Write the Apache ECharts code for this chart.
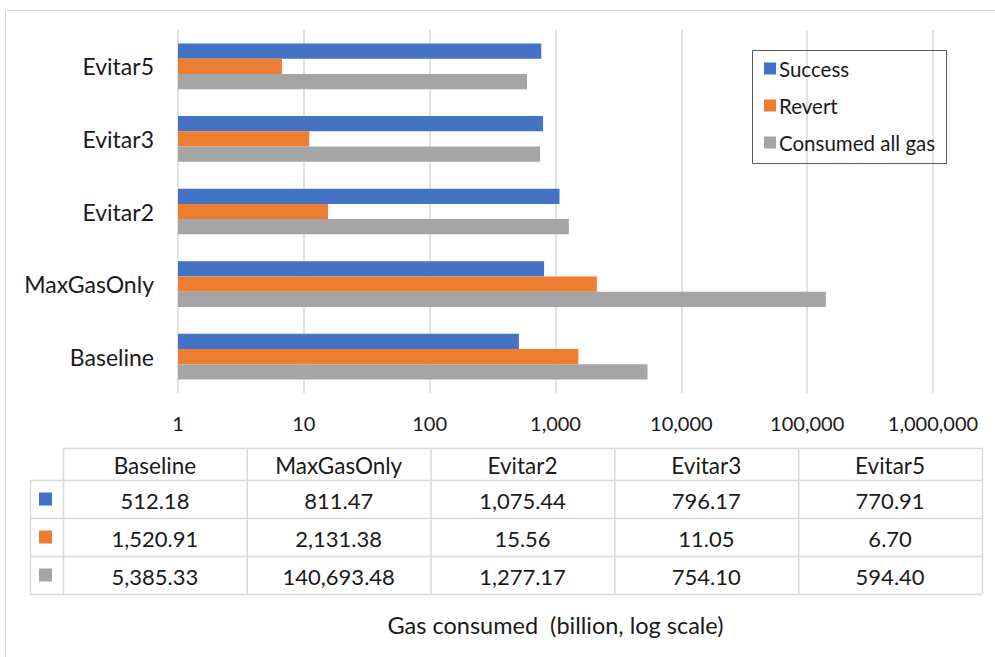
<!DOCTYPE html>
<html>
<head>
<meta charset="utf-8">
<script src="https://cdn.jsdelivr.net/npm/echarts@6/dist/echarts.min.js"></script>
<style>html,body{margin:0;padding:0;background:#fff}#c{width:995px;height:657px}</style>
</head>
<body>
<div id="c"></div>
<script>
const categories = ['Baseline', 'MaxGasOnly', 'Evitar2', 'Evitar3', 'Evitar5'];
const seriesNames = ['Success', 'Revert', 'Consumed all gas'];
const success = [512.18, 811.47, 1075.44, 796.17, 770.91];
const revert = [1520.91, 2131.38, 15.56, 11.05, 6.70];
const consumed = [5385.33, 140693.48, 1277.17, 754.10, 594.40];
const tickValues = [1, 10, 100, 1000, 10000, 100000, 1000000];
const axisTitle = 'Gas consumed  (billion, log scale)';

const colors = ['#4472C4', '#ED7D31', '#A5A5A5'];
const FONT = 'Lato';
const TXT = '#1a1a1a';
const LINE = '#d9d9d9';
const allSeries = [success, revert, consumed];

const fmt = v => v.toLocaleString('en-US', {minimumFractionDigits: 2, maximumFractionDigits: 2});

// table layout
const keyL = 30, tL = 63, tR = 982, hTop = 448, hBot = 480, rowH = 38;
const colW = (tR - tL) / categories.length;
const tBot = hBot + rowH * 3;
const g = [];
// outer border
g.push({type: 'rect', shape: {x: 5.5, y: 10.5, width: 1000, height: 700}, style: {fill: 'none', stroke: LINE, lineWidth: 1}, silent: true});
// legend box
g.push({type: 'rect', shape: {x: 752.5, y: 50.5, width: 194, height: 113}, style: {fill: 'none', stroke: '#595959', lineWidth: 1}, z: 10});
// table lines
const hl = (x1, x2, y) => g.push({type: 'line', shape: {x1, y1: y + 0.5, x2, y2: y + 0.5}, style: {stroke: LINE, lineWidth: 1.5}});
const vl = (x, y1, y2) => g.push({type: 'line', shape: {x1: x + 0.5, y1, x2: x + 0.5, y2}, style: {stroke: LINE, lineWidth: 1.5}});
hl(tL, tR, hTop);
for (let r = 0; r <= 3; r++) hl(keyL, tR, hBot + r * rowH);
vl(keyL, hBot, tBot);
for (let c = 0; c <= categories.length; c++) vl(tL + c * colW, hTop, tBot);
// header text
categories.forEach((cat, c) => {
  g.push({type: 'text', x: tL + (c + 0.5) * colW, y: (hTop + hBot) / 2 + 1, style: {text: cat, font: '22.5px ' + FONT, fill: TXT, align: 'center', verticalAlign: 'middle'}});
});
// rows
allSeries.forEach((vals, r) => {
  const cy = hBot + (r + 0.5) * rowH;
  g.push({type: 'rect', shape: {x: 39, y: cy - 6.5, width: 13, height: 13}, style: {fill: colors[r]}});
  vals.forEach((v, c) => {
    g.push({type: 'text', x: tL + (c + 0.5) * colW, y: cy + 1, style: {text: fmt(v), font: '22px ' + FONT, fill: TXT, align: 'center', verticalAlign: 'middle'}});
  });
});

const chart = echarts.init(document.getElementById('c'), null, {renderer: 'svg'});
chart.setOption({
  animation: false,
  textStyle: {fontFamily: FONT},
  color: colors,
  grid: {left: 178, right: 62, top: 30, bottom: 264, containLabel: false},
  legend: {
    orient: 'vertical', left: 752, top: 50,
    padding: [8, 8, 8, 12],
    itemWidth: 12, itemHeight: 12, itemGap: 16,
    icon: 'rect',
    data: seriesNames,
    textStyle: {fontSize: 20.5, color: TXT, fontFamily: FONT, padding: [0, 0, 0, -2]}
  },
  xAxis: {
    type: 'log', logBase: 10, min: 1, max: 1000000,
    axisLine: {show: false}, axisTick: {show: false},
    splitLine: {show: true, lineStyle: {color: LINE, width: 1.5}},
    minorTick: {show: false}, minorSplitLine: {show: false},
    axisLabel: {fontSize: 20, color: TXT, margin: 20, fontFamily: FONT,
      formatter: v => Number(v).toLocaleString('en-US')},
    name: axisTitle, nameLocation: 'middle', nameGap: 220,
    nameTextStyle: {fontSize: 23.5, color: TXT, fontFamily: FONT}
  },
  yAxis: {
    type: 'category', data: categories,
    axisLine: {show: false}, axisTick: {show: false}, splitLine: {show: false},
    axisLabel: {fontSize: 23, color: TXT, margin: 24, fontFamily: FONT}
  },
  series: seriesNames.map((n, i) => ({
    name: n, type: 'bar', data: allSeries[i],
    barGap: '0%', barCategoryGap: '37%'
  })),
  graphic: g
});
</script>
</body>
</html>
